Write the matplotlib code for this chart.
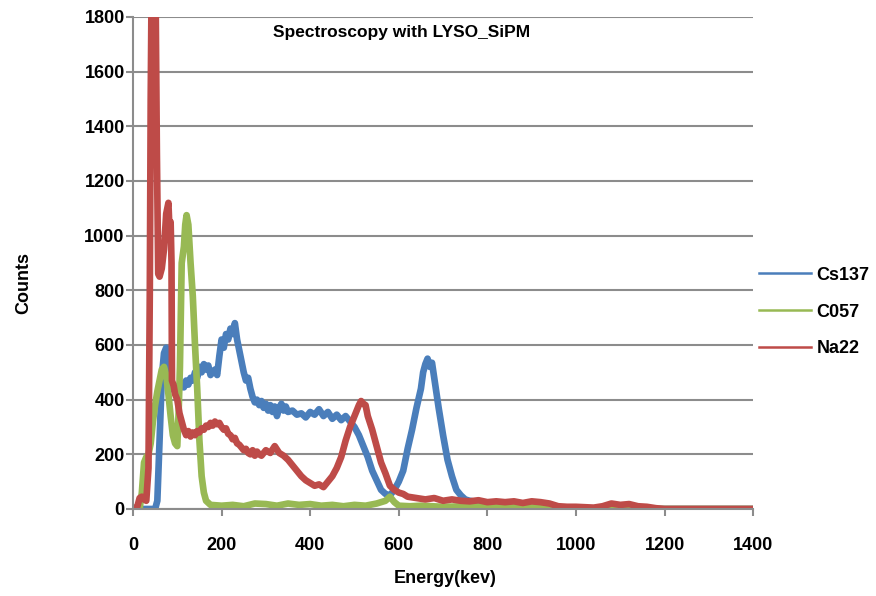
import matplotlib
matplotlib.use("Agg")
import matplotlib.pyplot as plt
from matplotlib.lines import Line2D

plt.rcParams['font.family'] = ['Liberation Sans', 'DejaVu Sans']
plt.rcParams['font.weight'] = 'bold'

# Cs137 spectrum (energy in keV, counts)
cs_e = [0, 50, 55, 60, 65, 70, 75, 80, 85, 90, 95, 100, 105, 110, 115, 120, 125, 130, 135, 140,
        145, 150, 155, 160, 165, 170, 175, 180, 185, 190, 195, 200, 205, 210, 215, 220, 225, 230,
        235, 240, 245, 250, 255, 260, 265, 270, 275, 280, 285, 290, 295, 300, 305, 310, 315, 320,
        325, 330, 335, 340, 345, 350, 360, 370, 380, 390, 400, 410, 420, 430, 440, 450, 460, 470,
        480, 490, 500, 510, 520, 530, 540, 550, 560, 570, 580, 590, 600, 610, 620, 630, 640, 650,
        655, 660, 665, 670, 675, 680, 690, 700, 710, 720, 730, 740, 750, 760, 780, 800, 820, 850,
        900, 1000, 1400]
cs_c = [0, 0, 30, 250, 480, 570, 590, 560, 480, 440, 430, 450, 440, 460, 445, 470, 455, 480, 470, 500,
        480, 520, 500, 530, 510, 525, 490, 500, 510, 490, 560, 620, 590, 640, 620, 660, 640, 680,
        620, 580, 540, 500, 470, 480, 440, 410, 390, 400, 380, 395, 370, 385, 360, 380, 355, 375,
        340, 370, 385, 360, 375, 355, 360, 345, 350, 335, 355, 345, 365, 340, 355, 330, 345, 325,
        340, 320, 300, 270, 230, 190, 140, 105, 70, 55, 50, 70, 100, 140, 220, 290, 370, 440,
        500, 530, 550, 520, 535, 480, 370, 270, 180, 120, 70, 50, 35, 30, 25, 20, 15, 10,
        5, 0, 0]

# C057 spectrum
co_e = [0, 15, 20, 25, 30, 35, 40, 45, 50, 55, 60, 65, 70, 75, 80, 85, 90, 95, 100, 103, 106, 110,
        115, 118, 121, 125, 130, 135, 140, 145, 150, 155, 160, 165, 175, 200, 225, 250, 275, 300,
        325, 350, 375, 400, 425, 450, 475, 500, 525, 550, 570, 580, 590, 600, 625, 650, 700, 750,
        800, 850, 900, 950, 1000, 1080, 1100, 1400]
co_c = [0, 0, 60, 170, 190, 200, 240, 320, 380, 430, 470, 510, 520, 490, 420, 340, 270, 240, 230, 350,
        520, 900, 960, 1040, 1075, 1040, 900, 780, 600, 440, 250, 120, 60, 30, 15, 12, 15, 10, 20, 18,
        12, 20, 15, 18, 12, 15, 10, 15, 12, 20, 30, 45, 25, 12, 10, 12, 8, 10,
        8, 10, 6, 5, 0, 5, 0, 0]

# Na22 spectrum
na_e = [0, 10, 15, 20, 25, 30, 35, 38, 40, 42, 51, 54, 57, 60, 65, 70, 75, 80, 83, 85, 87, 88, 92, 95,
        100, 105, 110, 115, 120, 125, 130, 135, 140, 145, 150, 155, 160, 165, 170, 175, 180, 185,
        190, 195, 200, 205, 210, 215, 220, 225, 230, 235, 240, 245, 250, 255, 260, 265, 270, 275,
        280, 285, 290, 300, 310, 320, 330, 340, 350, 360, 370, 380, 390, 400, 410, 420, 430, 440,
        450, 460, 470, 480, 490, 500, 510, 515, 520, 525, 530, 540, 550, 560, 570, 580, 590, 600,
        610, 620, 640, 660, 680, 700, 720, 740, 760, 780, 800, 820, 840, 860, 880, 900, 920, 940,
        960, 980, 1000, 1040, 1060, 1080, 1100, 1120, 1140, 1160, 1180, 1200, 1400]
na_c = [0, 10, 40, 45, 35, 30, 150, 800, 1500, 1900, 1900, 1300, 860, 850, 880, 950, 1080, 1120, 1000, 1050, 900, 470, 450, 420,
        400, 350, 320, 290, 270, 285, 265, 280, 270, 285, 280, 295, 290, 305, 300, 315, 305, 320,
        310, 315, 300, 290, 295, 275, 270, 255, 260, 240, 235, 225, 215, 220, 205, 200, 215, 195,
        210, 200, 195, 215, 205, 230, 205, 195, 180, 160, 140, 120, 105, 95, 85, 90, 80, 100,
        120, 150, 190, 250, 300, 340, 380, 395, 385, 380, 340, 290, 230, 170, 130, 85, 70, 60,
        55, 45, 40, 35, 40, 30, 35, 30, 28, 32, 25, 28, 25, 28, 22, 28, 25, 20,
        10, 8, 8, 5, 10, 20, 15, 18, 10, 8, 3, 0, 0]

series = [("Cs137", cs_e, cs_c, "#4A7EBB"),
          ("C057", co_e, co_c, "#98B954"),
          ("Na22", na_e, na_c, "#BE4B48")]

fig = plt.figure(figsize=(8.76, 5.96), dpi=100)
ax = fig.add_axes([0.1518, 0.146, 0.708, 0.8255])

for name, e, c, col in series:
    ax.plot(e, c, color=col, lw=4.8, solid_joinstyle='round', solid_capstyle='round')

ax.set_xlim(0, 1400)
ax.set_ylim(0, 1800)
ax.set_xticks(range(0, 1401, 200))
ax.set_yticks(range(0, 1801, 200))
ax.yaxis.grid(True, color='#8c8c8c', lw=1.5)
ax.set_axisbelow(True)
for s in ['top', 'right']:
    ax.spines[s].set_visible(False)
for s in ['left', 'bottom']:
    ax.spines[s].set_color('#8c8c8c')
    ax.spines[s].set_linewidth(1.5)
ax.tick_params(axis='both', colors='#8c8c8c', length=5, width=1.5, labelcolor='black', labelsize=13)
ax.tick_params(axis='x', pad=15)
ax.tick_params(axis='y', pad=1)
for lab in ax.get_xticklabels() + ax.get_yticklabels():
    lab.set_fontweight('bold')

ax.set_xlabel("Energy(kev)", fontsize=13, fontweight='bold')
ax.set_ylabel("Counts", fontsize=13, fontweight='bold')
ax.xaxis.set_label_coords(0.503, -0.124)
ax.yaxis.set_label_coords(-0.163, 0.46)
ax.text(0.433, 0.968, "Spectroscopy with LYSO_SiPM", transform=ax.transAxes,
        ha='center', va='center', fontsize=12.5, fontweight='bold')

handles = [Line2D([], [], color=col, lw=1.8) for _, _, _, col in series]
labels = [name for name, _, _, _ in series]
fig.legend(handles, labels, loc='center left', bbox_to_anchor=(0.866, 0.4765),
           frameon=False, handlelength=2.9, handletextpad=0.3,
           labelspacing=1.1, borderpad=0, borderaxespad=0, prop={'weight': 'bold', 'size': 13})

fig.savefig("out.png", dpi=100)
